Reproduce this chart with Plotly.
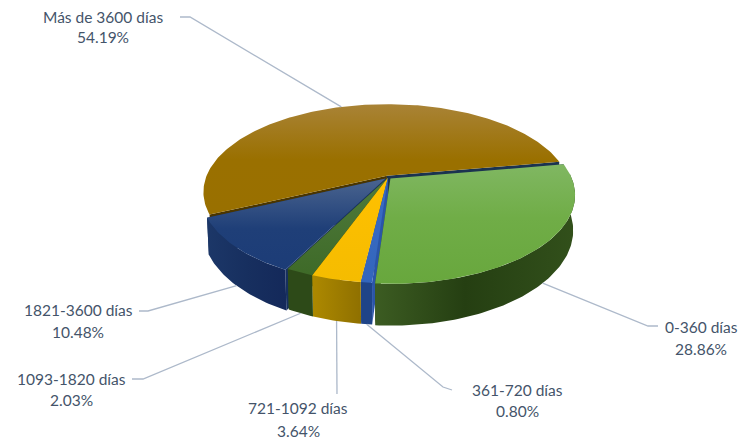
import numpy as np
import plotly.graph_objects as go

categories = ["0-360 días", "361-720 días", "721-1092 días", "1093-1820 días", "1821-3600 días", "Más de 3600 días"]
values = [28.86, 0.80, 3.64, 2.03, 10.48, 54.19]

# styling per slice
top_scales = [
    [[0, "#80B762"], [0.45, "#70AD47"], [1, "#68A73D"]],
    [[0, "#3A6BC4"], [1, "#3366BC"]],
    [[0, "#FFC000"], [1, "#F5BC00"]],
    [[0, "#4F7A3C"], [1, "#3E6A28"]],
    [[0, "#4A648F"], [0.55, "#1F3F78"], [1, "#1C3C77"]],
    [[0, "#A98336"], [0.5, "#9A7000"], [1, "#997000"]],
]
side_scales = [
    [[0, "#3C5C22"], [0.45, "#253F12"], [1, "#32501B"]],
    [[0, "#1F4488"], [1, "#1F4488"]],
    [[0, "#AD8900"], [1, "#8F7000"]],
    [[0, "#2D4A18"], [1, "#2D4A18"]],
    [[0, "#1C3768"], [0.5, "#172F5F"], [1, "#14295A"]],
    None,
]
start_walls = ["#1E3A50", "#2A55A8", "#B08C00", "#2D4A18", "#16305F", "#4A3500"]
end_walls = ["#2D4A18", "#2A55A8", "#B08C00", "#2D4A18", "#16305F", "#1B3350"]
explode = [0.018, 0.006, 0.006, 0.006, 0.018, 0.02]

# label layout: name centre, name y, percent y, leader points from label side
label_pos = [(701, 327, 349), (517, 390, 411), (298, 408, 431), (71, 379, 400), (78, 310, 332), (103, 17, 37)]
leader_elbows = [
    [(658, 326), (648, 326)],
    [(452, 390), (443, 387)],
    [(337, 394)],
    [(132, 379), (143, 379)],
    [(139, 311), (148, 311)],
    [(180, 17), (190, 17)],
]
leader_on_top = [False, False, False, False, False, True]

CX, CY, A, B, K, DZ = 388.0, 177.5, 181.0, 85.5, 0.184, 34.0
START_DEG = -9.8


def project(theta, r, off, lowered=False):
    X = r * np.cos(theta) + off[0]
    Y = r * np.sin(theta) + off[1]
    d = 1 - K * Y
    x = A * X / d
    y = B * Y / d
    if lowered:
        return CX + x * 0.99, CY + y + DZ / d
    return CX + x, CY + y


def poly(fig, xs, ys, scale, horizontal=False):
    xs, ys = np.asarray(xs), np.asarray(ys)
    grad = dict(
        type="horizontal" if horizontal else "vertical",
        colorscale=scale,
        start=float(xs.min() if horizontal else ys.min()),
        stop=float(xs.max() if horizontal else ys.max()),
    )
    fig.add_trace(go.Scatter(x=xs, y=ys, mode="lines", fill="toself", fillgradient=grad,
                             line=dict(width=0), hoverinfo="skip", showlegend=False))


fig = go.Figure()

edges = START_DEG + np.concatenate([[0], np.cumsum(values)]) * 360 / sum(values)
slices = []
for i, v in enumerate(values):
    t0, t1 = np.radians(edges[i]), np.radians(edges[i + 1])
    mid = (t0 + t1) / 2
    off = (explode[i] * np.cos(mid), explode[i] * np.sin(mid))
    slices.append((i, t0, t1, mid, off))

# painter's order: back slice first, then round the front from left to right
for i, t0, t1, mid, off in [slices[j] for j in (5, 4, 3, 2, 1, 0)]:
    th = np.linspace(t0, t1, max(6, int(np.degrees(t1 - t0)) + 2))
    tx, ty = project(th, 1.0, off)
    bx, by = project(th, 1.0, off, True)
    cx0, cy0 = project(0.0, 0.0, off)
    cx1, cy1 = project(0.0, 0.0, off, True)
    for tt, col in ((t0, start_walls[i]), (t1, end_walls[i])):
        ex, ey = project(tt, 1.0, off)
        fx, fy = project(tt, 1.0, off, True)
        poly(fig, [cx0, ex, fx, cx1], [cy0, ey, fy, cy1], [[0, col], [1, col]])
    vis = np.sin(th) > -0.05
    if vis.any() and side_scales[i] is not None:
        sx = np.concatenate([tx[vis], bx[vis][::-1]])
        sy = np.concatenate([ty[vis], by[vis][::-1]])
        poly(fig, sx, sy, side_scales[i], horizontal=True)
    poly(fig, np.concatenate([[cx0], tx]), np.concatenate([[cy0], ty]), top_scales[i])

annotations = []
for i, t0, t1, mid, off in slices:
    ex, ey = project(mid, 1.0, off, not leader_on_top[i])
    lx = [p[0] for p in leader_elbows[i]] + [float(ex)]
    ly = [p[1] for p in leader_elbows[i]] + [float(ey)]
    fig.add_trace(go.Scatter(x=lx, y=ly, mode="lines", line=dict(color="#ADB9CA", width=1.3),
                             hoverinfo="skip", showlegend=False))
    cx_l, y1, y2 = label_pos[i]
    for txt, yy in ((categories[i], y1), (f"{values[i]:.2f}%", y2)):
        annotations.append(dict(x=cx_l, y=yy, text=txt, showarrow=False, xanchor="center", yanchor="middle",
                                font=dict(family="Lato", size=15.5, color="#44546A")))

fig.update_layout(
    width=746, height=442, margin=dict(l=0, r=0, t=0, b=0),
    paper_bgcolor="white", plot_bgcolor="white", showlegend=False,
    xaxis=dict(range=[0, 746], visible=False, fixedrange=True),
    yaxis=dict(range=[442, 0], visible=False, fixedrange=True),
    annotations=annotations,
)
fig.write_html("out.html", config={"displayModeBar": False},
               post_script="document.body.style.margin='0';document.body.style.overflow='hidden';")
